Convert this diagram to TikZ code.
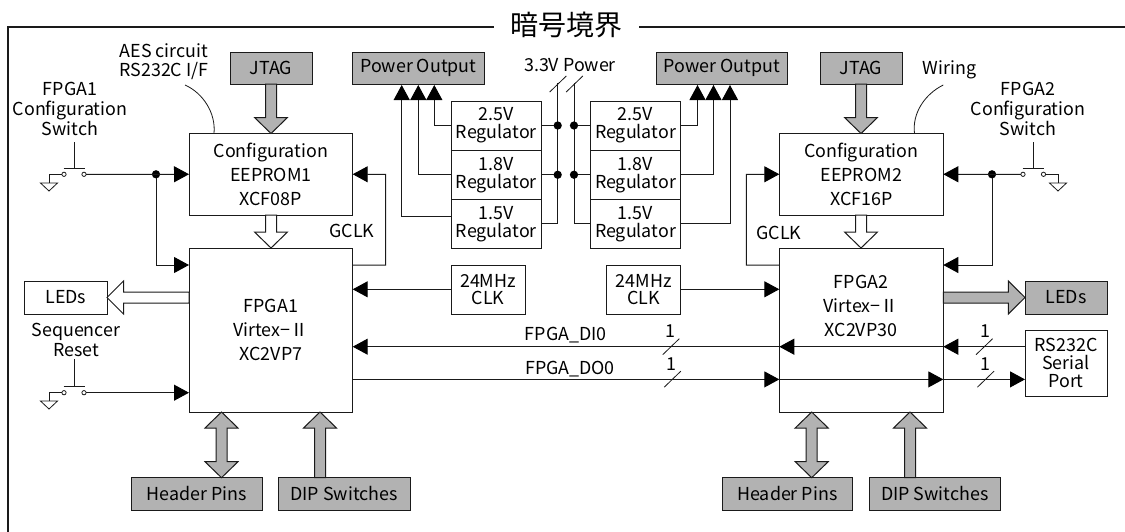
\documentclass[tikz,border=0pt]{standalone}
\usepackage{fontspec}
\setmainfont{Noto Sans CJK JP}
\usetikzlibrary{arrows.meta}
\definecolor{graybox}{HTML}{B2B2B2}
\definecolor{ink}{HTML}{1A1A1A}
\newcommand{\fsz}{\fontsize{13.4}{18}\selectfont}
\newcommand{\rbox}[7]{\node[boxn,#6,minimum width={(#4-#2)*0.75pt},minimum height={(#5-#3)*0.75pt}] (#1) at ({(#2+#4)/2},{(#3+#5)/2}) {#7};}
\newcommand{\blockdown}[4]{\draw[barrow,fill=#4] (#1-5.5,#2) -- (#1+5.5,#2) -- (#1+5.5,#3-16) -- (#1+16.5,#3-16) -- (#1,#3) -- (#1-16.5,#3-16) -- (#1-5.5,#3-16) -- cycle;}
\newcommand{\blockup}[4]{\draw[barrow,fill=#4] (#1-5.5,#2) -- (#1+5.5,#2) -- (#1+5.5,#3+16) -- (#1+16.5,#3+16) -- (#1,#3) -- (#1-16.5,#3+16) -- (#1-5.5,#3+16) -- cycle;}
\newcommand{\blockboth}[4]{\draw[barrow,fill=#4] (#1,#2) -- (#1+16.5,#2+16) -- (#1+5.5,#2+16) -- (#1+5.5,#3-16) -- (#1+16.5,#3-16) -- (#1,#3) -- (#1-16.5,#3-16) -- (#1-5.5,#3-16) -- (#1-5.5,#2+16) -- (#1-16.5,#2+16) -- cycle;}
\newcommand{\blockh}[5]{\draw[barrow,fill=#5] (#1,#4-5.5) -- (#2,#4-5.5) -- (#2,#4-16.5) -- (#3,#4) -- (#2,#4+16.5) -- (#2,#4+5.5) -- (#1,#4+5.5) -- cycle;}
\newcommand{\gnd}[2]{\draw[wirethin] (#1-8.5,#2) -- (#1+8.5,#2) -- (#1,#2+8) -- cycle;}
\newcommand{\slashmark}[2]{\draw[wirethin] (#1-8.3,#2+8) -- (#1+8.3,#2-8);}
\begin{document}
\begin{tikzpicture}[x=0.75pt,y=-0.75pt,
  boxn/.style={draw=ink,line width=0.75pt,inner sep=0pt,outer sep=0pt,align=center,font=\fsz,text=black},
  plainbox/.style={fill=white},
  graybx/.style={fill=graybox},
  lab/.style={inner sep=0pt,outer sep=0pt,align=center,font=\fsz,text=black},
  wire/.style={draw=ink,line width=0.75pt},
  wirethin/.style={draw=ink,line width=0.6pt},
  tip/.style={wire,-{Triangle[length=11.25pt,width=12pt,color=black]}},
  barrow/.style={draw=ink,line width=0.75pt,line join=miter},
  dotn/.style={circle,fill=black,inner sep=0pt,outer sep=0pt,minimum size=6.2pt},
  contact/.style={circle,draw=ink,fill=white,line width=0.6pt,inner sep=0pt,outer sep=0pt,minimum size=3.2pt}]
\useasboundingbox (0,0) rectangle (1125,532);
\fill[white] (0,0) rectangle (1125,532);
% boundary
\coordinate (fa) at (8,532); \coordinate (fb) at (8,27); \coordinate (fc) at (494,27);
\coordinate (fd) at (639,27); \coordinate (fe) at (1125,27);
\draw[draw=ink,line width=1.1pt] (fa) -- (fb) -- (fc);
\draw[draw=ink,line width=1.1pt] (fd) -- (fe);
\node[inner sep=0pt,font=\fontsize{21}{24}\selectfont] (title) at (566,25) {暗号境界};
% boxes
\rbox{jtaga}{230}{52}{312}{84}{graybx}{JTAG}
\rbox{jtagb}{820}{52}{902}{84}{graybx}{JTAG}
\rbox{poa}{352.7}{52}{484}{84}{graybx}{Power Output}
\rbox{pob}{656}{52}{787.5}{84}{graybx}{Power Output}
\rbox{eepa}{189}{133.5}{352.7}{215}{plainbox}{Configuration\\EEPROM1\\XCF08P}
\rbox{eepb}{779.3}{133.5}{943.3}{215}{plainbox}{Configuration\\EEPROM2\\XCF16P}
\rbox{fpgaa}{189}{248}{352.7}{412}{plainbox}{FPGA1\\Virtex−Ⅱ\\XC2VP7}
\rbox{fpgab}{779.3}{248}{943.3}{412}{plainbox}{}
\node[lab] (fpgabt) at (861,305.5) {FPGA2\\Virtex−Ⅱ\\XC2VP30};
\rbox{rla}{451}{101}{541.7}{150}{plainbox,font=\fontsize{13.4}{13.5}\selectfont}{2.5V\\Regulator}
\rbox{rlb}{451}{150}{541.7}{199.5}{plainbox,font=\fontsize{13.4}{13.5}\selectfont}{1.8V\\Regulator}
\rbox{rlc}{451}{199.5}{541.7}{248}{plainbox,font=\fontsize{13.4}{13.5}\selectfont}{1.5V\\Regulator}
\rbox{rra}{590.3}{101}{680.7}{150}{plainbox,font=\fontsize{13.4}{13.5}\selectfont}{2.5V\\Regulator}
\rbox{rrb}{590.3}{150}{680.7}{199.5}{plainbox,font=\fontsize{13.4}{13.5}\selectfont}{1.8V\\Regulator}
\rbox{rrc}{590.3}{199.5}{680.7}{248}{plainbox,font=\fontsize{13.4}{13.5}\selectfont}{1.5V\\Regulator}
\rbox{clka}{451}{265}{525}{314.5}{plainbox,font=\fontsize{13.4}{13}\selectfont}{24MHz\\CLK}
\rbox{clkb}{606.7}{265}{680.7}{314.5}{plainbox,font=\fontsize{13.4}{13}\selectfont}{24MHz\\CLK}
\rbox{leda}{24.5}{281}{107}{314}{plainbox}{LEDs}
\rbox{ledb}{1025}{281}{1107}{314}{graybx}{LEDs}
\rbox{rs}{1025}{330.3}{1107}{396}{plainbox,font=\fontsize{13.4}{13.5}\selectfont}{RS232C\\Serial\\Port}
\rbox{hpa}{131.5}{477.7}{262.5}{510}{graybx}{Header Pins}
\rbox{dipa}{278.3}{477.7}{410}{510}{graybx}{DIP Switches}
\rbox{hpb}{722}{477.7}{852.7}{510}{graybx}{Header Pins}
\rbox{dipb}{869.3}{477.7}{1000.3}{510}{graybx}{DIP Switches}
% labels
\node[lab,font=\fontsize{13.4}{14.5}\selectfont] (aes) at (164,61.5) {AES circuit\\RS232C I/F};
\node[lab,font=\fontsize{13.4}{14.8}\selectfont] (swa) at (70,109) {FPGA1\\Configuration\\Switch};
\node[lab,font=\fontsize{13.4}{14.8}\selectfont] (swb) at (1028,109) {FPGA2\\Configuration\\Switch};
\node[lab,font=\fontsize{13.4}{14.8}\selectfont] (seq) at (76,340) {Sequencer\\Reset};
\node[lab] (wiring) at (949.5,70) {Wiring};
\node[lab] (pw) at (570,65) {3.3V Power};
\node[lab] (gca) at (352,231) {GCLK};
\node[lab] (gcb) at (779,233) {GCLK};
\node[lab] (di) at (565.7,334.7) {FPGA\_DI0};
\node[lab] (do) at (570,368.7) {FPGA\_DO0};
\node[lab] (n1) at (670,331) {1};
\node[lab] (n2) at (671,364) {1};
\node[lab] (n3) at (985,331) {1};
\node[lab] (n4) at (985.5,364) {1};
% block arrows
\blockdown{271}{84}{133.5}{graybox}
\blockdown{861}{84}{133.5}{graybox}
\blockdown{271}{215}{248}{white}
\blockdown{861}{215}{248}{white}
\blockboth{221.5}{412}{477.7}{graybox}
\blockboth{811.7}{412}{477.7}{graybox}
\blockup{320}{477.7}{412}{graybox}
\blockup{910}{477.7}{412}{graybox}
\blockh{189}{123.5}{107}{297.5}{white}
\blockh{943.3}{1008.3}{1025}{297.5}{graybox}
% leader curves
\coordinate (aesl) at (185,85); \coordinate (wl) at (943.3,85);
\draw[wirethin] (aesl) .. controls (203,93) and (216,113) .. (eepa.north -| 214,0);
\draw[wirethin] (wl) .. controls (925,94) and (912,113) .. (eepb.north -| 914.5,0);
% switch 1
\node[contact] (s1l) at (64,174.3) {}; \node[contact] (s1r) at (84,174.3) {};
\coordinate (s1t) at (74,142); \coordinate (s1b) at (74,168);
\draw[wirethin] (s1t) -- (s1b); \draw[wirethin] (63.5,168) -- (85,168);
\node[dotn] (d1) at (156,174.3) {};
\draw[tip] (s1r) -- (eepa.west);
\coordinate (g1) at (49,183);
\draw[wirethin] (s1l) -| (g1); \gnd{49}{183}
\coordinate (f1c) at (0,265);
\draw[tip] (d1) |- (fpgaa.west |- f1c);
% switch seq
\node[contact] (s3l) at (64,392.7) {}; \node[contact] (s3r) at (84,392.7) {};
\coordinate (s3t) at (74,359); \coordinate (s3b) at (74,386);
\draw[wirethin] (s3t) -- (s3b); \draw[wirethin] (63.5,386) -- (85,386);
\coordinate (g3) at (49,401);
\draw[wirethin] (s3l) -| (g3); \gnd{49}{401}
\draw[tip] (s3r) -- (fpgaa.west |- s3r);
% switch 2
\node[contact] (s2l) at (1023,174.3) {}; \node[contact] (s2r) at (1043.5,174.3) {};
\coordinate (s2t) at (1033,142); \coordinate (s2b) at (1033,168);
\draw[wirethin] (s2t) -- (s2b); \draw[wirethin] (1022.5,168) -- (1044,168);
\node[dotn] (d2) at (992,174.3) {};
\draw[tip] (s2l) -- (eepb.east);
\coordinate (g2) at (1058,183);
\draw[wirethin] (s2r) -| (g2); \gnd{1058}{183}
\draw[tip] (d2) |- (fpgab.east |- f1c);
% GCLK
\coordinate (ga) at (385.5,174.3); \coordinate (gb) at (746.3,174.3);
\draw[tip] (fpgaa.east |- f1c) -| (ga) -- (eepa.east);
\draw[tip] (fpgab.west |- f1c) -| (gb) -- (eepb.west);
% CLK
\draw[tip] (clka.west |- 0,289.3) -- (fpgaa.east |- 0,289.3);
\draw[tip] (clkb.east |- 0,289.3) -- (fpgab.west |- 0,289.3);
% data
\coordinate (dy) at (0,346.7); \coordinate (oy) at (0,379.4);
\draw[tip] (rs.west |- dy) -- (fpgab.east |- dy);
\draw[tip] (fpgab.east |- dy) -- (fpgab.west |- dy);
\draw[tip] (fpgab.west |- dy) -- (fpgaa.east |- dy);
\draw[tip] (fpgaa.east |- oy) -- (fpgab.west |- oy);
\draw[tip] (fpgab.west |- oy) -- (fpgab.east |- oy);
\draw[tip] (fpgab.east |- oy) -- (rs.west |- oy);
\slashmark{671}{346.7} \slashmark{672.5}{379.2} \slashmark{984.3}{346.7} \slashmark{985.7}{379.2}
% power
\coordinate (pay) at (401.7,85); \coordinate (pby) at (418.3,85); \coordinate (pcy) at (434.3,85);
\coordinate (pdy) at (697.5,85); \coordinate (pey) at (713.5,85); \coordinate (pfy) at (730,85);
\draw[tip] (rla.west) -| (pcy);
\draw[tip] (rlb.west) -| (pby);
\draw[tip] (rlc.west |- 0,216) -| (pay);
\draw[tip] (rra.east) -| (pdy);
\draw[tip] (rrb.east) -| (pey);
\draw[tip] (rrc.east) -| (pfy);
\coordinate (va) at (557.7,83); \coordinate (vb) at (574,83);
\draw[wire] (va) |- (rlc.east);
\draw[wire] (vb) |- (rrc.west);
\node[dotn] (pd1) at (557.7,125.5) {}; \node[dotn] (pd2) at (557.7,174.75) {};
\node[dotn] (pd3) at (574,125.5) {}; \node[dotn] (pd4) at (574,174.75) {};
\draw[wire] (rla.east) -- (pd1); \draw[wire] (rlb.east) -- (pd2);
\draw[wire] (rra.west) -- (pd3); \draw[wire] (rrb.west) -- (pd4);
\slashmark{558}{84} \slashmark{574.5}{84}
\end{tikzpicture}
\end{document}
